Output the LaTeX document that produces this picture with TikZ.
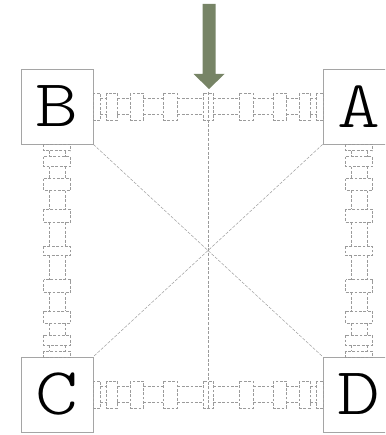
\documentclass[tikz,border=0pt]{standalone}
\usepackage{fontspec}
\newfontfamily\boxfont[FakeStretch=1.22]{Latin Modern Mono Light}
\definecolor{arrowgreen}{RGB}{119,132,102}
\definecolor{chaingray}{RGB}{155,155,155}
\definecolor{boxgray}{RGB}{165,165,165}
\tikzset{
  letterbox/.style={draw=boxgray, line width=0.8pt, minimum width=72pt, minimum height=75pt, inner sep=0pt, font=\boxfont\fontsize{67}{67}\selectfont},
  chainline/.style={draw=chaingray, line width=0.6pt, dash pattern=on 2.8pt off 1.6pt},
  guide/.style={draw=chaingray, line width=0.5pt, dash pattern=on 3pt off 1.6pt}
}
\newcommand\linkchain{%
  \foreach \a/\b in {0/0.030,0.057/0.104,0.161/0.217,0.304/0.365,0.478/0.522,0.635/0.696,0.783/0.839,0.896/0.943,0.970/1}{
    \draw[chainline] (\a,-13.5) rectangle (\b,13.5);
  }
  \foreach \a/\b in {0.030/0.057,0.104/0.161,0.217/0.304,0.365/0.478,0.522/0.635,0.696/0.783,0.839/0.896,0.943/0.970}{
    \draw[chainline] (\a,-8) -- (\b,-8) (\a,8) -- (\b,8);
  }
}
\begin{document}
\begin{tikzpicture}[x=1pt,y=-1pt]
\useasboundingbox (0,0) rectangle (385,435);
\clip (0,0) rectangle (385,435);
% boxes
\node[letterbox] (B) at (57,106.5) {B};
\node[letterbox] (A) at (359,106.5) {A};
\node[letterbox] (C) at (57,394.5) {C};
\node[letterbox] (D) at (359,394.5) {D};
% diagonals
\draw[guide] (B.south east) -- (D.north west);
\draw[guide] (A.south west) -- (C.north east);
% chains
\begin{scope}[shift={(B.east)}, x={(230pt,0pt)}, y={(0pt,-1pt)}]
  \linkchain
\end{scope}
\begin{scope}[shift={(C.east)}, x={(230pt,0pt)}, y={(0pt,-1pt)}]
  \linkchain
\end{scope}
\begin{scope}[shift={(B.south)}, x={(0pt,-213pt)}, y={(1pt,0pt)}]
  \linkchain
\end{scope}
\begin{scope}[shift={(A.south)}, x={(0pt,-213pt)}, y={(1pt,0pt)}]
  \linkchain
\end{scope}
% vertical centre line
\coordinate (top) at (208,92);
\coordinate (bottom) at (208,408);
\draw[guide] (top) -- (bottom);
% arrow
\fill[arrowgreen] (202.5,4) -- (215.5,4) -- (215.5,74) -- (224.5,74) -- (209,89) -- (193.5,74) -- (202.5,74) -- cycle;
\end{tikzpicture}
\end{document}
